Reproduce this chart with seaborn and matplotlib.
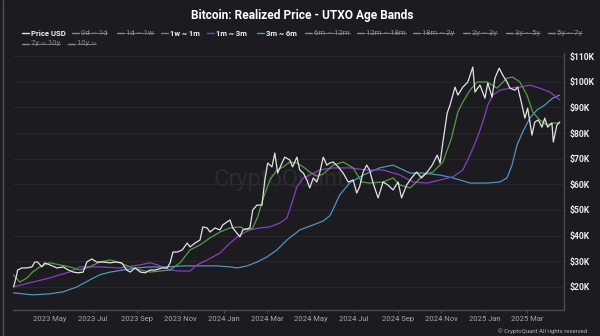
import numpy as np
import pandas as pd
import matplotlib
matplotlib.use("Agg")
import matplotlib.pyplot as plt
import seaborn as sns
from matplotlib.lines import Line2D

# ---------------- data (values in thousands of USD) ----------------
price_dates = [
    "2023-03-11", "2023-03-12", "2023-03-15", "2023-03-17", "2023-03-23", "2023-03-30", "2023-04-06",
    "2023-04-10", "2023-04-14", "2023-04-20", "2023-04-24", "2023-05-01", "2023-05-11", "2023-05-20",
    "2023-05-27", "2023-06-03", "2023-06-10", "2023-06-17", "2023-06-22", "2023-06-29", "2023-07-06",
    "2023-07-15", "2023-07-25", "2023-08-01", "2023-08-10", "2023-08-17", "2023-08-22", "2023-08-29",
    "2023-09-05", "2023-09-12", "2023-09-19", "2023-09-26", "2023-10-06", "2023-10-13", "2023-10-17",
    "2023-10-21", "2023-10-27", "2023-11-03", "2023-11-10", "2023-11-14", "2023-11-21", "2023-11-28",
    "2023-12-02", "2023-12-08", "2023-12-12", "2023-12-19", "2023-12-26", "2023-12-30", "2024-01-09",
    "2024-01-13", "2024-01-23", "2024-01-27", "2024-02-06", "2024-02-10", "2024-02-16", "2024-02-23",
    "2024-02-27", "2024-03-02", "2024-03-08", "2024-03-12", "2024-03-16", "2024-03-22", "2024-03-26",
    "2024-04-02", "2024-04-06", "2024-04-12", "2024-04-16", "2024-04-21", "2024-04-26", "2024-04-30",
    "2024-05-05", "2024-05-10", "2024-05-14", "2024-05-19", "2024-05-24", "2024-05-28", "2024-06-02",
    "2024-06-09", "2024-06-16", "2024-06-23", "2024-06-30", "2024-07-05", "2024-07-09", "2024-07-14",
    "2024-07-19", "2024-07-23", "2024-07-28", "2024-08-04", "2024-08-11", "2024-08-18", "2024-08-25",
    "2024-09-01", "2024-09-06", "2024-09-13", "2024-09-20", "2024-09-27", "2024-10-04", "2024-10-12",
    "2024-10-19", "2024-10-26", "2024-10-30", "2024-11-03", "2024-11-09", "2024-11-13", "2024-11-20",
    "2024-11-24", "2024-12-01", "2024-12-08", "2024-12-15", "2024-12-18", "2024-12-25", "2025-01-01",
    "2025-01-05", "2025-01-11", "2025-01-15", "2025-01-21", "2025-01-26", "2025-02-01", "2025-02-05",
    "2025-02-12", "2025-02-16", "2025-02-22", "2025-02-26", "2025-03-02", "2025-03-08", "2025-03-12",
    "2025-03-17", "2025-03-22", "2025-03-26", "2025-03-30", "2025-04-05", "2025-04-07", "2025-04-12",
    "2025-04-16",
]
price_usd = [
    20.0, 20.8, 23.9, 26.6, 27.4, 27.4, 27.8,
    29.7, 29.7, 27.8, 29.4, 28.6, 27.4, 27.8,
    26.6, 25.8, 25.5, 25.8, 29.7, 30.9, 29.7,
    29.7, 29.4, 29.7, 29.4, 26.6, 25.8, 27.4,
    25.8, 25.5, 26.6, 26.6, 27.4, 27.4, 29.4,
    33.6, 33.6, 34.4, 37.1, 35.6, 37.1, 38.3,
    43.4, 43.0, 41.4, 43.0, 42.2, 44.2, 46.1,
    43.0, 39.5, 42.2, 43.0, 50.0, 51.9, 51.9,
    61.7, 68.3, 66.8, 72.2, 64.4, 68.3, 70.6,
    69.5, 66.8, 70.6, 65.6, 64.4, 61.7, 58.6,
    62.5, 60.9, 64.4, 70.6, 67.5, 68.3, 68.7,
    66.8, 64.4, 60.9, 61.7, 56.6, 59.0, 64.8,
    67.5, 65.6, 60.5, 54.7, 60.9, 59.7, 57.8,
    60.9, 54.7, 59.7, 62.5, 64.8, 62.5, 64.8,
    67.5, 71.4, 68.3, 76.5, 87.8, 90.9, 97.9,
    94.8, 97.9, 99.9, 105.7, 96.0, 98.7, 93.6,
    99.5, 94.0, 101.4, 105.3, 102.6, 99.9, 97.5,
    96.7, 97.9, 90.9, 85.8, 89.7, 79.2, 84.3,
    85.1, 82.3, 85.8, 82.3, 83.9, 76.5, 83.1,
    84.3,
]

band_1w_1m_dates = [
    "2023-03-11", "2023-03-20", "2023-03-30", "2023-04-07", "2023-04-17", "2023-05-01", "2023-05-15",
    "2023-05-29", "2023-06-12", "2023-06-26", "2023-07-10", "2023-07-25", "2023-08-08", "2023-08-22",
    "2023-09-05", "2023-09-19", "2023-10-03", "2023-10-17", "2023-10-31", "2023-11-14", "2023-11-28",
    "2023-12-12", "2023-12-26", "2024-01-09", "2024-01-23", "2024-02-02", "2024-02-10", "2024-02-17",
    "2024-02-24", "2024-03-05", "2024-03-15", "2024-03-24", "2024-04-02", "2024-04-12", "2024-04-21",
    "2024-04-30", "2024-05-10", "2024-05-19", "2024-06-02", "2024-06-16", "2024-06-30", "2024-07-12",
    "2024-07-23", "2024-08-11", "2024-08-25", "2024-09-04", "2024-09-18", "2024-09-27", "2024-10-06",
    "2024-10-20", "2024-11-03", "2024-11-15", "2024-11-24", "2024-12-01", "2024-12-11", "2024-12-21",
    "2025-01-04", "2025-01-18", "2025-02-01", "2025-02-09", "2025-02-19", "2025-03-01", "2025-03-09",
    "2025-03-19", "2025-03-29", "2025-04-06", "2025-04-16",
]
band_1w_1m = [
    24.7, 21.9, 23.5, 25.8, 27.8, 29.4, 28.6,
    27.8, 26.6, 27.8, 29.7, 30.5, 29.4, 27.8,
    26.6, 25.8, 26.2, 26.6, 29.4, 34.4, 36.4,
    39.1, 41.4, 43.0, 43.4, 42.2, 43.0, 47.3,
    53.9, 61.7, 65.6, 66.8, 68.7, 68.3, 66.8,
    64.8, 63.2, 64.0, 67.5, 68.7, 66.4, 60.9,
    60.5, 60.9, 62.5, 59.7, 58.6, 60.9, 63.6,
    64.8, 68.7, 78.0, 88.2, 92.1, 96.7, 99.9,
    99.9, 97.5, 101.4, 101.8, 99.9, 94.8, 88.2,
    85.1, 83.1, 83.9, 83.9,
]

band_1m_3m_dates = [
    "2023-03-11", "2023-04-03", "2023-05-01", "2023-05-15", "2023-05-29", "2023-06-12", "2023-07-10",
    "2023-08-08", "2023-09-05", "2023-09-19", "2023-09-29", "2023-10-07", "2023-10-17", "2023-10-31",
    "2023-11-14", "2023-11-24", "2023-12-08", "2023-12-26", "2024-01-09", "2024-01-23", "2024-02-06",
    "2024-02-20", "2024-03-05", "2024-03-19", "2024-03-29", "2024-04-05", "2024-04-12", "2024-04-21",
    "2024-04-30", "2024-05-14", "2024-06-02", "2024-06-25", "2024-07-19", "2024-08-11", "2024-09-04",
    "2024-09-22", "2024-10-12", "2024-10-30", "2024-11-17", "2024-12-01", "2024-12-11", "2024-12-21",
    "2024-12-29", "2025-01-05", "2025-01-12", "2025-01-22", "2025-02-05", "2025-02-19", "2025-03-05",
    "2025-03-19", "2025-04-02", "2025-04-16",
]
band_1m_3m = [
    20.0, 21.6, 23.5, 24.7, 25.8, 27.8, 27.8,
    27.4, 28.6, 29.4, 28.6, 27.8, 26.6, 26.2,
    26.2, 28.6, 30.5, 33.2, 37.1, 40.3, 42.2,
    43.0, 43.4, 44.9, 46.9, 52.7, 59.0, 62.5,
    63.6, 65.6, 66.4, 66.4, 65.6, 65.6, 63.6,
    60.9, 60.5, 61.7, 62.9, 65.6, 71.4, 78.0,
    84.3, 90.9, 94.8, 96.7, 97.5, 97.9, 98.7,
    97.5, 96.0, 92.9,
]

band_3m_6m_dates = [
    "2023-03-11", "2023-04-07", "2023-05-01", "2023-05-20", "2023-06-08", "2023-06-26", "2023-07-10",
    "2023-07-25", "2023-08-12", "2023-08-31", "2023-09-19", "2023-10-13", "2023-11-04", "2023-11-28",
    "2023-12-22", "2024-01-09", "2024-01-19", "2024-02-02", "2024-02-16", "2024-03-01", "2024-03-15",
    "2024-03-29", "2024-04-16", "2024-05-05", "2024-05-19", "2024-05-28", "2024-05-31", "2024-06-11",
    "2024-06-25", "2024-07-14", "2024-08-06", "2024-08-25", "2024-09-18", "2024-10-06", "2024-10-30",
    "2024-11-17", "2024-12-11", "2025-01-04", "2025-01-22", "2025-02-01", "2025-02-08", "2025-02-15",
    "2025-02-23", "2025-03-05", "2025-03-15", "2025-03-26", "2025-04-06", "2025-04-16",
]
band_3m_6m = [
    17.7, 16.9, 17.3, 18.1, 20.0, 22.7, 24.7,
    25.8, 26.6, 27.4, 27.8, 27.8, 28.2, 28.2,
    28.2, 27.8, 27.4, 28.2, 29.7, 31.7, 34.4,
    38.3, 42.2, 44.2, 45.7, 47.7, 49.2, 55.8,
    60.5, 63.6, 66.4, 67.5, 64.4, 64.4, 63.6,
    62.5, 60.5, 60.5, 60.9, 62.5, 67.5, 75.3,
    80.4, 85.8, 89.0, 90.9, 93.6, 94.8,
]

x_tick_dates = ["2023-05-01", "2023-07-01", "2023-09-01", "2023-11-01", "2024-01-01", "2024-03-01",
                "2024-05-01", "2024-07-01", "2024-09-01", "2024-11-01", "2025-01-01", "2025-03-01"]
x_tick_labels = ["2023 May", "2023 Jul", "2023 Sep", "2023 Nov", "2024 Jan", "2024 Mar",
                 "2024 May", "2024 Jul", "2024 Sep", "2024 Nov", "2025 Jan", "2025 Mar"]
y_tick_values = [20, 30, 40, 50, 60, 70, 80, 90, 100, 110]
y_tick_labels = ["$20K", "$30K", "$40K", "$50K", "$60K", "$70K", "$80K", "$90K", "$100K", "$110K"]

legend_labels = ["Price USD", "0d ~ 1d", "1d ~ 1w", "1w ~ 1m", "1m ~ 3m", "3m ~ 6m", "6m ~ 12m",
                 "12m ~ 18m", "18m ~ 2y", "2y ~ 3y", "3y ~ 5y", "5y ~ 7y", "7y ~ 10y", "10y ~"]
legend_active = [True, False, False, True, True, True, False,
                 False, False, False, False, False, False, False]

title = "Bitcoin: Realized Price - UTXO Age Bands"

# ---------------- style ----------------
BG = "#1b1b20"
C_PRICE = "#e4e4e4"
C_GREEN = "#579c48"
C_PURPLE = "#8c3cc4"
C_BLUE = "#4f96be"
C_OFF = "#8a8a8e"
SPINE = "#4a4a50"

sns.set_theme(style="dark")
plt.rcParams['font.family'] = ['Roboto', 'DejaVu Sans']

W, H = 600, 336
fig = plt.figure(figsize=(W / 100, H / 100), dpi=100, facecolor=BG)
ax = fig.add_axes([13.4 / W, 1 - 309.5 / H, (564 - 13.4) / W, (309.5 - 53) / H])
ax.set_facecolor(BG)

series = [
    (band_3m_6m_dates, band_3m_6m, C_BLUE),
    (band_1m_3m_dates, band_1m_3m, C_PURPLE),
    (band_1w_1m_dates, band_1w_1m, C_GREEN),
    (price_dates, price_usd, C_PRICE),
]
for d, v, c in series:
    sns.lineplot(x=pd.to_datetime(d), y=v, ax=ax, color=c, lw=0.9, legend=False)

ax.set_xlim(pd.Timestamp("2023-03-11"), pd.Timestamp("2025-04-22"))
ax.set_ylim(11.2, 111.2)

for s in ["left", "top"]:
    ax.spines[s].set_visible(False)
for s in ["right", "bottom"]:
    ax.spines[s].set_visible(True)
    ax.spines[s].set_color(SPINE)
    ax.spines[s].set_linewidth(1.0)

ax.set_xticks(pd.to_datetime(x_tick_dates), x_tick_labels)
ax.set_yticks(y_tick_values, y_tick_labels)
ax.yaxis.tick_right()
ax.grid(False)
ax.yaxis.grid(True, color="#2a2a30", lw=0.6)
ax.tick_params(axis="x", length=2.5, width=0.7, color=SPINE, pad=2.5,
               labelsize=5.5, labelcolor="#a8a8ac", bottom=True)
ax.tick_params(axis="y", length=0, pad=4.3, labelsize=6.2, labelcolor="#ececec", right=True, left=False)
for lbl in ax.get_yticklabels():
    lbl.set_fontweight("bold")
ax.set_xlabel("")
ax.set_ylabel("")

# watermark
ax.text(0.484, 0.505, "CryptoQuant", transform=ax.transAxes, ha="center", va="center",
        fontsize=17, color="#2b2b32", zorder=0)

# title
fig.text(302 / W, 1 - 16 / H, title, ha="center", va="center", fontsize=8.6,
         fontweight="bold", color="white")

# legend (manual, CryptoQuant style)
legend_colors = [C_PRICE, C_OFF, C_OFF, C_GREEN, C_PURPLE, C_BLUE, C_OFF,
                 C_OFF, C_OFF, C_OFF, C_OFF, C_OFF, C_OFF, C_OFF]
legend_x = [22, 72, 117, 161, 207, 257, 305, 357, 413, 463, 506, 548, 22, 68]
legend_y = [33] * 12 + [43.5] * 2
renderer = fig.canvas.get_renderer()
inv = fig.transFigure.inverted()
for lab, act, col, lx, ly in zip(legend_labels, legend_active, legend_colors, legend_x, legend_y):
    yf = 1 - ly / H
    fig.add_artist(Line2D([lx / W, (lx + 7) / W], [yf, yf], transform=fig.transFigure,
                          color=col, lw=1.0))
    t = fig.text((lx + 9) / W, yf, lab, ha="left", va="center", fontsize=5.6,
                 color="#f2f2f2" if act else C_OFF,
                 fontweight="bold" if act else "normal")
    if not act:
        bb = t.get_window_extent(renderer).transformed(inv)
        fig.add_artist(Line2D([bb.x0, bb.x1], [yf, yf], transform=fig.transFigure,
                              color=C_OFF, lw=0.6))

# copyright
fig.text(587 / W, 1 - 331 / H, "\u00a9 CryptoQuant All rights reserved", ha="right", va="center",
         fontsize=4.3, color="#b4b4b8")

# left frame line
fig.add_artist(Line2D([2.5 / W, 2.5 / W], [0, 1], transform=fig.transFigure, color="#505056", lw=1.0))

fig.savefig("out.png", dpi=100, facecolor=BG)
